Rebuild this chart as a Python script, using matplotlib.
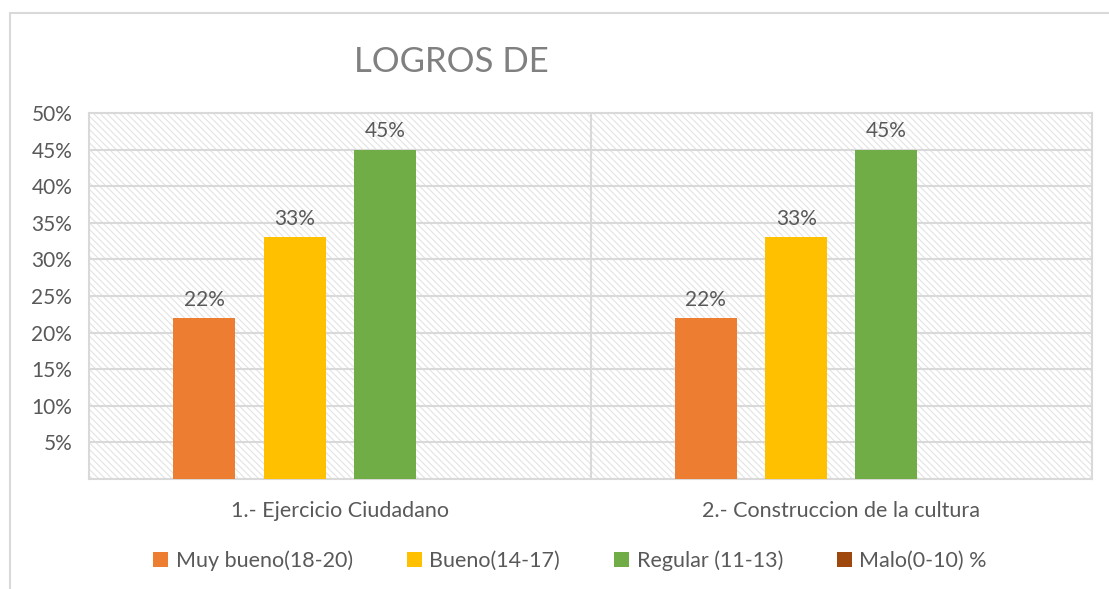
import numpy as np
import matplotlib.pyplot as plt
from matplotlib.patches import Rectangle

categories = ['1.- Ejercicio Ciudadano', '2.- Construccion de la cultura']
series_names = ['Muy bueno(18-20)', 'Bueno(14-17)', 'Regular (11-13)', 'Malo(0-10) %']
muy_bueno = [0.22, 0.22]
bueno = [0.33, 0.33]
regular = [0.45, 0.45]
malo = [0.0, 0.0]
colors = ['#ED7D31', '#FFC000', '#70AD47', '#9E480E']
yticks = [0.05, 0.10, 0.15, 0.20, 0.25, 0.30, 0.35, 0.40, 0.45, 0.50]
ytick_labels = ['5%', '10%', '15%', '20%', '25%', '30%', '35%', '40%', '45%', '50%']

plt.rcParams['font.family'] = ['Lato', 'DejaVu Sans']
plt.rcParams['hatch.color'] = '#e3e3e3'
plt.rcParams['hatch.linewidth'] = 0.8
txt = '#595959'
grid = '#d9d9d9'

fig = plt.figure(figsize=(11.09, 5.89), dpi=100)
fig.patch.set_facecolor('white')

##### outer chart border (only left/top visible in the picture)
fig.add_artist(Rectangle((10 / 1109, -0.1), 1.2, 1 - 13 / 589 + 0.1, transform=fig.transFigure,
                         fill=False, edgecolor=grid, linewidth=1.5))

ax = fig.add_axes([89 / 1109, 1 - 479 / 589, (1092 - 89) / 1109, (479 - 113) / 589])
ax.patch.set_facecolor('white')
ax.patch.set_hatch('\\\\\\\\\\')
ax.patch.set_edgecolor('#e3e3e3')

x = np.arange(len(categories))
values = [muy_bueno, bueno, regular, malo]
slot = 0.18
width = 0.124
for i, (name, vals, c) in enumerate(zip(series_names, values, colors)):
    pos = x + (i - 1.5) * slot
    bars = ax.bar(pos, vals, width, color=c, label=name, zorder=3)
    for b, v in zip(bars, vals):
        if v > 0:
            ax.annotate(f'{v:.0%}', (b.get_x() + b.get_width() / 2, v), xytext=(0, 6),
                        textcoords='offset points', ha='center', va='bottom',
                        fontsize=15, color=txt, zorder=4)

ax.set_xlim(-0.5, 1.5)
ax.set_ylim(0, 0.5)
ax.set_yticks(yticks)
ax.set_yticklabels(ytick_labels, fontsize=15, color=txt)
for yv in np.arange(0.05, 0.5, 0.05):
    ax.axhline(yv, color=grid, linewidth=1.5, zorder=2)
ax.axvline(0.5, color=grid, linewidth=1.5, zorder=2)
ax.set_xticks(x)
ax.set_xticklabels(categories, fontsize=15.5, color=txt)
ax.tick_params(axis='both', length=0)
ax.tick_params(axis='x', pad=16)
ax.tick_params(axis='y', pad=12)
for s in ax.spines.values():
    s.set_color(grid)
    s.set_linewidth(1.5)

fig.text(451 / 1109, 1 - 62 / 589, 'LOGROS DE', fontsize=25, color='#808080',
         ha='center', va='center')

leg = fig.legend(loc='center', bbox_to_anchor=(570 / 1109, 1 - 561 / 589), ncol=4,
                 frameon=False, fontsize=15.5, handlelength=0.7, handleheight=0.7,
                 handletextpad=0.35, columnspacing=2.5)
for t in leg.get_texts():
    t.set_color(txt)

fig.savefig('out.png', dpi=100)
